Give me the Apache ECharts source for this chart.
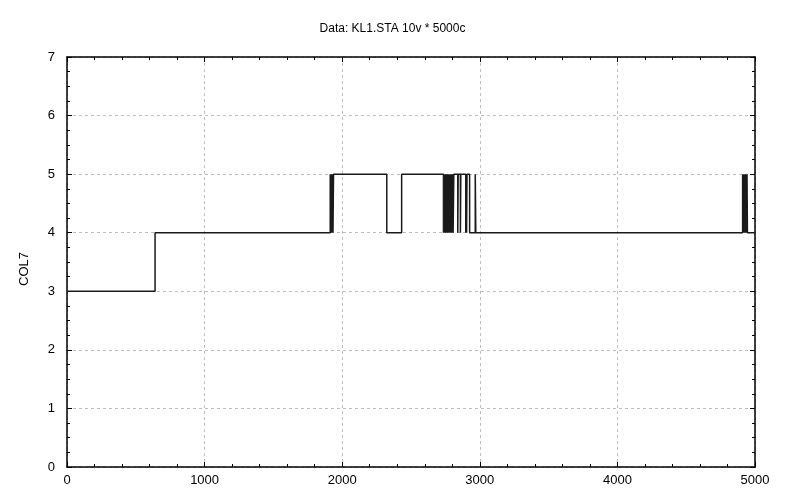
<!DOCTYPE html>
<html>
<head>
<meta charset="utf-8">
<script src="https://cdn.jsdelivr.net/npm/echarts@6/dist/echarts.min.js"></script>
<style>
  html, body { margin: 0; padding: 0; background: #fff; }
  #main { width: 785px; height: 490px; }
</style>
</head>
<body>
<div id="main"></div>
<script>
// case number where COL7 changes, and the value it takes from there on
var stepX = [0, 640,
  1913, 1917, 1921, 1925, 1929, 1933, 1937,
  2324, 2432,
  2736, 2741, 2746, 2751, 2756, 2761, 2766, 2771, 2776, 2781, 2786, 2791, 2796, 2801, 2806, 2811,
  2840, 2843, 2859, 2862, 2898, 2901, 2904, 2907, 2926, 2967, 2971,
  4910, 4914, 4918, 4922, 4926, 4930, 4934, 4938, 4942, 4945,
  5000]
var stepY = [3, 4,
  5, 4, 5, 4, 5, 4, 5,
  4, 5,
  4, 5, 4, 5, 4, 5, 4, 5, 4, 5, 4, 5, 4, 5, 4, 5,
  4, 5, 4, 5, 4, 5, 4, 5, 4, 5, 4,
  5, 4, 5, 4, 5, 4, 5, 4, 5, 4,
  4]

var chart = echarts.init(document.getElementById('main'))

var font = 'Liberation Sans, Arial, sans-serif'
// onZero off, or the top / right axes get pulled onto the 0 lines
var axisLine = { show: true, onZero: false, lineStyle: { color: '#000', width: 1.5 } }
var tick = { show: true, inside: true, length: 5, lineStyle: { color: '#000' } }
var minor = { show: true, length: 3, lineStyle: { color: '#000' } }
var grid = { show: true, lineStyle: { color: '#bdbdbd', type: [3, 3], width: 1 } }
var plain = function (v) { return String(v) }

var option = {
  animation: false,
  backgroundColor: '#fff',
  title: {
    text: 'Data: KL1.STA 10v * 5000c',
    left: 'center',
    top: 18,
    textStyle: { fontFamily: font, fontSize: 12, fontWeight: 'normal', color: '#000' }
  },
  grid: { left: 67, right: 30, top: 57, bottom: 23 },
  xAxis: [
    {
      type: 'value', min: 0, max: 5000, interval: 1000,
      axisLine: axisLine, axisTick: tick, minorTick: Object.assign({ splitNumber: 5 }, minor),
      splitLine: grid,
      axisLabel: { fontFamily: font, fontSize: 13, color: '#000', margin: 7, formatter: plain }
    },
    {
      type: 'value', position: 'top', min: 0, max: 5000, interval: 1000,
      axisLine: axisLine, axisTick: tick, minorTick: Object.assign({ splitNumber: 5 }, minor),
      splitLine: { show: false }, axisLabel: { show: false }
    }
  ],
  yAxis: [
    {
      type: 'value', min: 0, max: 7, interval: 1,
      name: 'COL7', nameLocation: 'middle', nameGap: 36,
      nameTextStyle: { fontFamily: font, fontSize: 13, color: '#000', padding: [0, 14, 0, 0] },
      axisLine: axisLine, axisTick: tick, minorTick: Object.assign({ splitNumber: 4 }, minor),
      splitLine: grid,
      axisLabel: { fontFamily: font, fontSize: 13, color: '#000', margin: 12, formatter: plain }
    },
    {
      type: 'value', position: 'right', min: 0, max: 7, interval: 1,
      axisLine: axisLine, axisTick: tick, minorTick: Object.assign({ splitNumber: 4 }, minor),
      splitLine: { show: false }, axisLabel: { show: false }
    }
  ],
  series: [
    {
      type: 'line',
      step: 'end',
      xAxisIndex: 0,
      yAxisIndex: 0,
      symbol: 'none',
      lineStyle: { color: '#1a1a1a', width: 1.5 },
      data: stepX.map(function (x, i) { return [x, stepY[i]] })
    }
  ]
}

chart.setOption(option)
</script>
</body>
</html>
